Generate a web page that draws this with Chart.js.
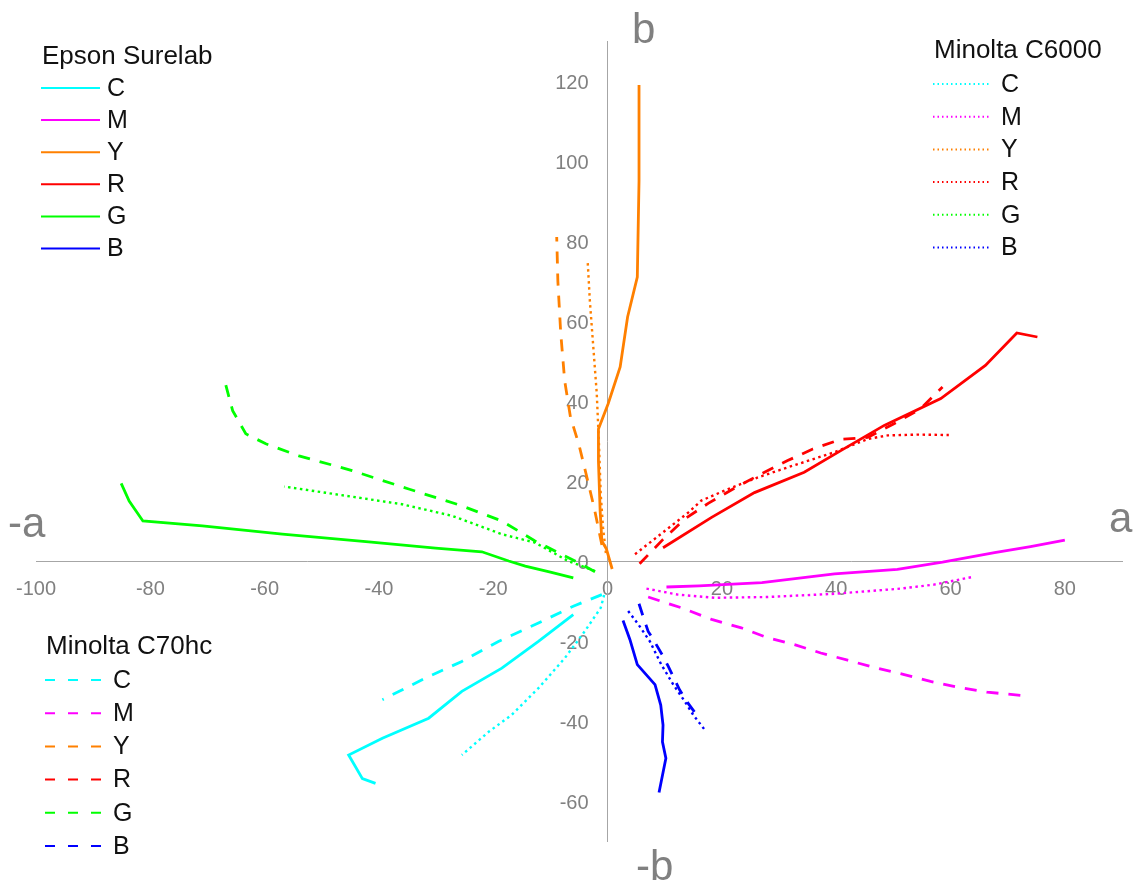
<!DOCTYPE html>
<html>
<head>
<meta charset="utf-8">
<title>a*b* gamut</title>
<script src="https://cdn.jsdelivr.net/npm/chart.js@4.4.1/dist/chart.umd.min.js"></script>
<style>
  html, body { margin: 0; padding: 0; background: #fff; }
  #wrap { width: 1136px; height: 881px; }
</style>
</head>
<body>
<div id="wrap"><canvas id="labChart" width="1136" height="881"></canvas></div>
<script>
// ---------- Data ----------
const inkNames = ["C", "M", "Y", "R", "G", "B"];
const printerNames = ["Epson Surelab", "Minolta C6000", "Minolta C70hc"];
const xTicks = [-100, -80, -60, -40, -20, 0, 20, 40, 60, 80];
const yTicks = [-60, -40, -20, 0, 20, 40, 60, 80, 100, 120];

// Epson Surelab, points as [a, b]
const epsonC = [[-6, -13.4], [-12.1, -20.1], [-18.5, -26.8], [-25.5, -32.6], [-31.3, -39.3], [-39.4, -44.3], [-45.3, -48.5], [-42.9, -54.4], [-40.6, -55.6]];
const epsonM = [[10.3, -6.5], [16, -6.2], [27, -5.4], [39.7, -3.2], [50.7, -2.1], [58.6, -0.3], [67.7, 2.1], [74, 3.6], [80, 5.2]];
const epsonY = [[0.8, -2], [-0.2, 3], [-1, 5], [-1.3, 12.5], [-1.6, 25], [-1.6, 33], [0.1, 39.3], [2.2, 48.5], [3.5, 61], [5.2, 71], [5.5, 95], [5.5, 119]];
const epsonR = [[9.7, 3.3], [18.2, 10.9], [25.7, 17.1], [34.4, 22.2], [40.8, 27.6], [48.4, 33.9], [58.3, 40.6], [66.1, 48.9], [71.6, 57], [75.2, 56]];
const epsonG = [[-6, -4.2], [-10, -2.8], [-14.4, -1.3], [-17.3, 0], [-22, 2.3], [-30.1, 3.2], [-41.8, 4.8], [-56.9, 6.7], [-70.9, 8.8], [-81.3, 10], [-83.7, 15], [-85.1, 19.4]];
const epsonB = [[2.7, -14.9], [3.9, -19.6], [5.2, -25.9], [8.3, -30.9], [9.3, -36], [9.7, -41], [9.6, -45.2], [10.2, -49.3], [9, -57.9]];

// Minolta C6000
const c6000C = [[-0.6, -8.5], [-1.2, -11.7], [-4, -17.6], [-7.5, -24.3], [-12.1, -31.8], [-16.8, -38.5], [-20.8, -42.7], [-25.5, -48.5]];
const c6000M = [[6.8, -6.9], [12.3, -8.4], [18.7, -9.2], [28, -9], [39.7, -8.2], [51.3, -6.9], [57.1, -5.9], [63.8, -4]];
const c6000Y = [[-0.3, 2], [-0.8, 8.4], [-1.2, 16.7], [-1.5, 29], [-1.9, 42], [-2.5, 53.5], [-3.1, 65], [-3.5, 75.3]];
const c6000R = [[4.8, 1.7], [10, 7.5], [14.1, 12.1], [16.4, 15.1], [21.1, 18], [26.3, 20.9], [31.5, 23.4], [39.7, 27.2], [45.5, 30.5], [49, 31.4], [54.2, 31.6], [59.7, 31.5]];
const c6000G = [[-2.2, -2.5], [-6.9, 0], [-12.7, 4.6], [-18.5, 6.7], [-27.2, 11.3], [-36, 14.2], [-47.6, 16.7], [-56.6, 18.6]];
const c6000B = [[3.6, -12.5], [5.4, -15.9], [7.4, -20.1], [9.4, -25.9], [11.5, -30.9], [13.5, -35.1], [15, -38.5], [17, -42.2]];

// Minolta C70hc
const c70C = [[-1, -8.4], [-6, -11.3], [-12.1, -15.5], [-19.1, -20.1], [-25.5, -25.1], [-31.9, -29.3], [-39.4, -34.7]];
const c70M = [[7.1, -9], [12.9, -11.7], [18.2, -14.6], [23.4, -16.7], [28, -19.2], [32.7, -20.9], [37.3, -23], [42, -24.8], [46.6, -26.6], [51.9, -28.4], [56.5, -30.1], [61.5, -31.6], [66.4, -32.8], [72.4, -33.6]];
const c70Y = [[-1, 4], [-2.3, 13], [-3.8, 22], [-5, 29], [-6.5, 36], [-7.5, 45], [-8.2, 57], [-8.7, 70], [-8.9, 81]];
const c70R = [[5.6, -0.7], [9.7, 5.4], [13.5, 10.5], [17.6, 14.4], [22.2, 18.2], [26.9, 21.8], [31.5, 25.1], [35.9, 28], [40.8, 30.4], [45.5, 30.9], [50.1, 34.3], [54.8, 38.1], [58.6, 43.5]];
const c70G = [[-2.2, -2.7], [-5.7, 0], [-12.7, 5], [-18.5, 10], [-25.5, 13.8], [-34.8, 18], [-44.7, 22.6], [-54, 26.3], [-59.8, 29.3], [-63.3, 31.8], [-65.6, 37.6], [-67.1, 45.6]];
const c70B = [[5.5, -10.7], [6.2, -13.8], [7.1, -17.6], [8, -19.6], [9.7, -23.8], [10.6, -26.3], [12.6, -32.2], [14.1, -35.6], [15.4, -38.1]];

const epsonSeries = [epsonC, epsonM, epsonY, epsonR, epsonG, epsonB];
const c6000Series = [c6000C, c6000M, c6000Y, c6000R, c6000G, c6000B];
const c70Series = [c70C, c70M, c70Y, c70R, c70G, c70B];

// ---------- Styles ----------
const inkColors = ["#00ffff", "#ff00ff", "#ff8000", "#ff0000", "#00ff00", "#0000ff"];
const printerStyle = [
  { dash: [], width: 2.8, legendDash: [], legendWidth: 2 },              // solid
  { dash: [2.5, 3.5], width: 2.4, legendDash: [1.5, 3], legendWidth: 2 }, // dotted
  { dash: [12, 10], width: 2.8, legendDash: [10, 13], legendWidth: 2 }    // dashed
];
const legendPos = [
  { x: 41, titleY: 57, firstY: 88, step: 32.1, lineLen: 59, textGap: 7 },
  { x: 933, titleY: 51, firstY: 84, step: 32.7, lineLen: 58, textGap: 10 },
  { x: 45, titleY: 647, firstY: 680, step: 33.2, lineLen: 58, textGap: 10 }
];
const FONT = "'Liberation Sans', Arial, sans-serif";
const GREY = "#808080";

const datasets = [];
[epsonSeries, c6000Series, c70Series].forEach((group, p) => {
  group.forEach((pts, i) => {
    datasets.push({
      label: printerNames[p] + " " + inkNames[i],
      data: pts.map(([a, b]) => ({ x: a, y: b })),
      borderColor: inkColors[i],
      backgroundColor: inkColors[i],
      borderWidth: printerStyle[p].width,
      borderDash: printerStyle[p].dash,
      showLine: true,
      pointRadius: 0,
      tension: 0,
      fill: false,
    });
  });
});

// y labels of a centred axis sit on the line; push them left a bit
const yLabelGap = {
  id: "yLabelGap",
  beforeDraw(chart) {
    const s = chart.scales.y;
    if (!s || !s.getLabelItems) return;
    s.getLabelItems().forEach((item) => {
      if (!item._moved) {
        item.options.translation[0] -= 19;
        item.options.translation[1] += 2;
        item._moved = true;
      }
    });
  },
};

// axis letters + three legend blocks drawn on top
const decorPlugin = {
  id: "decor",
  afterDraw(chart) {
    const ctx = chart.ctx;
    ctx.save();
    ctx.fillStyle = GREY;
    ctx.font = "42px " + FONT;
    ctx.textAlign = "left";
    ctx.textBaseline = "alphabetic";
    ctx.fillText("b", 632, 43);
    ctx.fillText("-b", 636, 880);
    ctx.fillText("-a", 8, 537);
    ctx.fillText("a", 1109, 532);

    ctx.textBaseline = "middle";
    legendPos.forEach((pos, p) => {
      ctx.fillStyle = "#111";
      ctx.font = "26px " + FONT;
      ctx.fillText(printerNames[p], pos.x + 1, pos.titleY);
      ctx.font = "25px " + FONT;
      inkNames.forEach((name, i) => {
        const y = pos.firstY + i * pos.step;
        ctx.strokeStyle = inkColors[i];
        ctx.lineWidth = printerStyle[p].legendWidth;
        ctx.setLineDash(printerStyle[p].legendDash);
        ctx.beginPath();
        ctx.moveTo(pos.x, y);
        ctx.lineTo(pos.x + pos.lineLen, y);
        ctx.stroke();
        ctx.fillStyle = "#111";
        ctx.fillText(name, pos.x + pos.lineLen + pos.textGap, y + 1);
      });
    });
    ctx.restore();
  },
};

new Chart(document.getElementById("labChart"), {
  type: "scatter",
  data: { datasets: datasets },
  options: {
    responsive: false,
    animation: false,
    devicePixelRatio: 1,
    events: [],
    layout: { padding: { left: 33, top: 41, right: 14, bottom: 40 } },
    plugins: { legend: { display: false }, tooltip: { enabled: false } },
    scales: {
      x: {
        type: "linear",
        min: -100,
        max: 90,
        position: { y: 0 },
        afterBuildTicks: (s) => { s.ticks = xTicks.map((v) => ({ value: v })); },
        afterFit: (s) => { s.height = 0; },
        grid: { drawOnChartArea: false, drawTicks: false },
        border: { display: true, color: "#a6a6a6", width: 1 },
        ticks: { color: GREY, font: { size: 20, family: FONT }, padding: 16, maxRotation: 0 },
      },
      y: {
        type: "linear",
        min: -70,
        max: 130,
        position: { x: 0 },
        afterBuildTicks: (s) => { s.ticks = yTicks.map((v) => ({ value: v })); },
        afterFit: (s) => { s.width = 0; },
        grid: { drawOnChartArea: false, drawTicks: false },
        border: { display: true, color: "#a6a6a6", width: 1 },
        ticks: { color: GREY, font: { size: 20, family: FONT } },
      },
    },
  },
  plugins: [yLabelGap, decorPlugin],
});
</script>
</body>
</html>
